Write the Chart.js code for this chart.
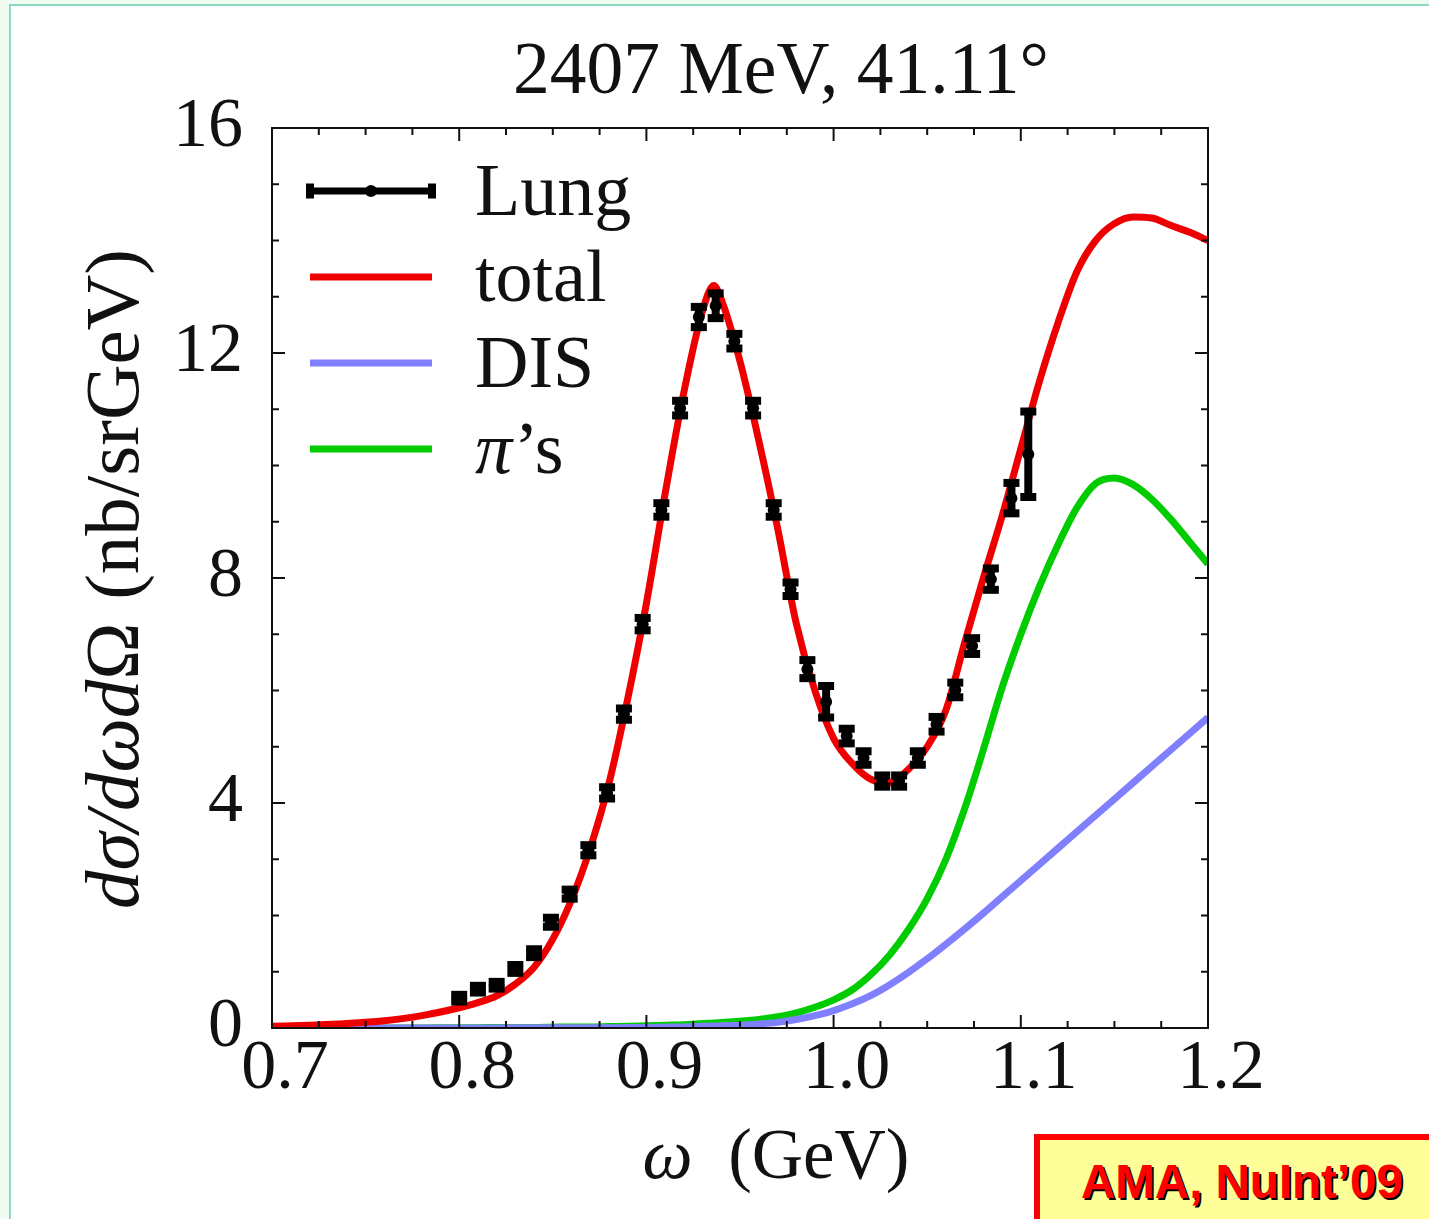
<!DOCTYPE html>
<html lang="en">
<head>
  <meta charset="UTF-8" />
  <title>2407 MeV, 41.11°</title>
  <script src="https://cdn.jsdelivr.net/npm/chart.js"></script>
  <style>
    html, body { margin: 0; padding: 0; }
    body { width: 1429px; height: 1219px; background: #effcef; position: relative; overflow: hidden; }
    #panel { position: absolute; left: 9px; top: 4px; width: 1440px; height: 1230px; background: #fff;
             border-left: 2px solid #8fd6c6; border-top: 2px solid #8fd6c6; }
    #chart { position: absolute; left: 0; top: 0; }
    #tag { position: absolute; left: 1034px; top: 1134px; width: 420px; height: 120px; box-sizing: border-box;
           background: #ffff99; border: 6px solid #ff0000; padding: 18px 0 0 41px;
           font-family: "Liberation Sans", Arial, sans-serif; font-weight: bold; font-size: 47.5px; line-height: 1;
           color: #ff0000; text-shadow: 2px 2px 0 #000; white-space: nowrap; }
  </style>
</head>
<body>
  <div id="panel"></div>
  <canvas id="chart" width="1429" height="1219"></canvas>
  <div id="tag">AMA, NuInt’09</div>

  <script>
    // ---- data ----
    const plotTitle = '2407 MeV, 41.11°';
    const xTickValues = [0.7, 0.8, 0.9, 1.0, 1.1, 1.2];
    const xTickLabels = ['0.7', '0.8', '0.9', '1.0', '1.1', '1.2'];
    const yTickValues = [0, 4, 8, 12, 16];
    const yTickLabels = ['0', '4', '8', '12', '16'];

    // Lung data points
    const lungW = [0.800, 0.810, 0.820, 0.830, 0.840, 0.849, 0.859, 0.869, 0.879, 0.888, 0.898, 0.908,
      0.918, 0.928, 0.937, 0.947, 0.957, 0.968, 0.977, 0.986, 0.996, 1.007, 1.016, 1.026,
      1.035, 1.045, 1.055, 1.065, 1.074, 1.084, 1.095, 1.104];
    const lungV = [0.53, 0.69, 0.76, 1.05, 1.33, 1.88, 2.38, 3.16, 4.18, 5.58, 7.18, 9.21,
      11.02, 12.64, 12.84, 12.21, 11.02, 9.21, 7.80, 6.38, 5.80, 5.19, 4.80, 4.39,
      4.39, 4.80, 5.40, 6.01, 6.79, 7.98, 9.42, 10.20];
    const lungErr = [0.06, 0.06, 0.06, 0.07, 0.07, 0.08, 0.08, 0.09, 0.1, 0.1, 0.11, 0.12,
      0.13, 0.18, 0.22, 0.13, 0.13, 0.12, 0.12, 0.16, 0.28, 0.13, 0.12, 0.1,
      0.1, 0.12, 0.13, 0.13, 0.14, 0.19, 0.27, 0.76];

    // model curves
    const curveW = [0.70, 0.72, 0.74, 0.76, 0.78, 0.80, 0.81, 0.82, 0.83, 0.84, 0.85, 0.86, 0.87, 0.88, 0.89,
      0.90, 0.91, 0.92, 0.93, 0.936, 0.94, 0.95, 0.96, 0.97, 0.98, 0.99, 1.00, 1.01, 1.02, 1.03, 1.04,
      1.05, 1.06, 1.07, 1.08, 1.09, 1.10, 1.11, 1.12, 1.13, 1.14, 1.15, 1.16, 1.17, 1.18, 1.19, 1.20];
    const totalV = [0.03, 0.05, 0.08, 0.13, 0.22, 0.36, 0.45, 0.57, 0.78, 1.08, 1.58, 2.28, 3.2, 4.35, 5.85,
      7.55, 9.5, 11.3, 12.75, 13.2, 12.95, 11.85, 10.45, 8.9, 7.2, 6.0, 5.15, 4.7, 4.42, 4.36, 4.6,
      5.0, 5.65, 6.85, 8.0, 9.1, 10.3, 11.5, 12.55, 13.45, 14.0, 14.3, 14.42, 14.4, 14.27, 14.15, 14.0];
    const disV = [0, 0, 0, 0, 0, 0, 0, 0.002, 0.003, 0.004, 0.005, 0.005, 0.005, 0.005, 0.008,
      0.01, 0.015, 0.02, 0.03, 0.035, 0.04, 0.05, 0.07, 0.1, 0.15, 0.22, 0.31, 0.43, 0.58, 0.77, 0.99,
      1.23, 1.49, 1.76, 2.04, 2.33, 2.62, 2.91, 3.2, 3.49, 3.78, 4.07, 4.36, 4.65, 4.94, 5.23, 5.52];
    const pionV = [0, 0, 0, 0, 0, 0.005, 0.005, 0.01, 0.01, 0.01, 0.015, 0.02, 0.02, 0.025, 0.03,
      0.04, 0.05, 0.06, 0.08, 0.09, 0.1, 0.12, 0.15, 0.2, 0.27, 0.37, 0.5, 0.68, 0.95, 1.3, 1.75,
      2.3, 3.0, 3.9, 4.95, 6.05, 7.0, 7.85, 8.6, 9.25, 9.68, 9.78, 9.66, 9.4, 9.05, 8.65, 8.25];

    const SERIF = '"Liberation Serif", "DejaVu Serif", serif';

    function pts(xs, ys) {
      return xs.map((x, i) => ({ x: x, y: ys[i] }));
    }

    function runsWidth(ctx, runs, size) {
      let total = 0;
      runs.forEach(r => {
        ctx.font = (r.italic ? 'italic ' : '') + size + 'px ' + SERIF;
        total += ctx.measureText(r.text).width + (r.gap || 0) * size / 68;
      });
      return total;
    }

    // draw text made of runs (different styles), centred on cx; fitted to a target width
    function drawRuns(ctx, runs, cx, baseY, size, target) {
      if (target) size = size * target / runsWidth(ctx, runs, size);
      let x = cx - runsWidth(ctx, runs, size) / 2;
      ctx.textAlign = 'left';
      ctx.textBaseline = 'alphabetic';
      runs.forEach(r => {
        ctx.font = (r.italic ? 'italic ' : '') + size + 'px ' + SERIF;
        const g = (r.gap || 0) * size / 68;
        ctx.fillText(r.text, x + g, baseY);
        x += ctx.measureText(r.text).width + g;
      });
    }

    // inward ticks on all four sides + frame + titles
    const framePlugin = {
      id: 'frame',
      afterDraw(chart) {
        const ctx = chart.ctx;
        const a = chart.chartArea;
        const xs = chart.scales.x, ys = chart.scales.y;
        ctx.save();
        ctx.strokeStyle = '#111';
        ctx.lineWidth = 2;
        ctx.beginPath();
        for (let i = 0; i <= 20; i++) {
          const px = xs.getPixelForValue(0.7 + i * 0.025);
          const len = i % 4 === 0 ? 13 : 7;
          ctx.moveTo(px, a.bottom); ctx.lineTo(px, a.bottom - len);
          ctx.moveTo(px, a.top); ctx.lineTo(px, a.top + len);
        }
        for (let i = 0; i <= 16; i++) {
          const py = ys.getPixelForValue(i);
          const len = i % 4 === 0 ? 13 : 7;
          ctx.moveTo(a.left, py); ctx.lineTo(a.left + len, py);
          ctx.moveTo(a.right, py); ctx.lineTo(a.right - len, py);
        }
        ctx.stroke();
        ctx.strokeRect(a.left, a.top, a.right - a.left, a.bottom - a.top);

        // titles
        ctx.fillStyle = '#111';
        const cx = (a.left + a.right) / 2;
        drawRuns(ctx, [{ text: plotTitle }], cx + 41, 93, 72, 536);
        drawRuns(ctx, [{ text: 'ω', italic: true }, { text: '(GeV)', gap: 34 }], cx + 36, 1178, 71);
        ctx.translate(138, 579);
        ctx.rotate(-Math.PI / 2);
        drawRuns(ctx, [{ text: 'dσ/dωd', italic: true }, { text: 'Ω' }, { text: '(nb/srGeV)', gap: 20 }], 0, 0, 68, 660);
        ctx.restore();
      }
    };

    // error bars for datasets carrying an "errors" array
    const errorBarPlugin = {
      id: 'errorBars',
      afterDatasetsDraw(chart) {
        const ctx = chart.ctx;
        const ys = chart.scales.y;
        chart.data.datasets.forEach((ds, di) => {
          if (!ds.errors) return;
          const meta = chart.getDatasetMeta(di);
          ctx.save();
          ctx.fillStyle = '#000';
          ctx.strokeStyle = '#000';
          ctx.lineWidth = 8;
          meta.data.forEach((el, i) => {
            const v = ds.data[i].y, e = ds.errors[i];
            const top = ys.getPixelForValue(v + e), bot = ys.getPixelForValue(v - e);
            ctx.beginPath();
            ctx.moveTo(el.x, top); ctx.lineTo(el.x, bot);
            ctx.stroke();
            ctx.fillRect(el.x - 8, top - 4, 16, 8);
            ctx.fillRect(el.x - 8, bot - 4, 16, 8);
          });
          ctx.restore();
        });
      }
    };

    // legend drawn inside the plot area
    const legendPlugin = {
      id: 'insideLegend',
      afterDraw(chart) {
        const ctx = chart.ctx;
        const a = chart.chartArea;
        const x0 = a.left + 38, x1 = a.left + 160, tx = a.left + 203;
        ctx.save();
        chart.data.datasets.forEach((ds, i) => {
          const y = a.top + 63 + i * 86;
          ctx.strokeStyle = ds.borderColor;
          ctx.fillStyle = ds.borderColor;
          ctx.lineWidth = 7;
          ctx.beginPath();
          ctx.moveTo(x0, y); ctx.lineTo(x1, y);
          ctx.stroke();
          if (ds.errors) {
            ctx.fillRect(x0 - 4, y - 7.5, 8, 15);
            ctx.fillRect(x1 - 4, y - 7.5, 8, 15);
            ctx.beginPath();
            ctx.arc((x0 + x1) / 2, y, 6, 0, Math.PI * 2);
            ctx.fill();
          }
          ctx.fillStyle = '#111';
          ctx.textAlign = 'left';
          ctx.textBaseline = 'alphabetic';
          let x = tx;
          const label = ds.label;
          if (label.startsWith('π')) {
            ctx.font = 'italic 74px ' + SERIF;
            ctx.fillText('π', x, y + 24);
            x += ctx.measureText('π').width + 2;
            ctx.font = '74px ' + SERIF;
            ctx.fillText(label.slice(1), x, y + 24);
          } else {
            ctx.font = '74px ' + SERIF;
            ctx.fillText(label, x, y + 24);
          }
        });
        ctx.restore();
      }
    };

    const chart = new Chart(document.getElementById('chart'), {
      type: 'line',
      data: {
        datasets: [
          {
            label: 'Lung', data: pts(lungW, lungV), errors: lungErr, showLine: false,
            borderColor: '#000', pointBackgroundColor: '#000', pointBorderWidth: 0, pointRadius: 6, order: 0
          },
          {
            label: 'total', data: pts(curveW, totalV), borderColor: '#ee0000', borderWidth: 7,
            pointRadius: 0, cubicInterpolationMode: 'monotone', order: 1
          },
          {
            label: 'DIS', data: pts(curveW, disV), borderColor: '#8080ff', borderWidth: 7,
            pointRadius: 0, cubicInterpolationMode: 'monotone', order: 2
          },
          {
            label: 'π’s', data: pts(curveW, pionV), borderColor: '#00cc00', borderWidth: 7,
            pointRadius: 0, cubicInterpolationMode: 'monotone', order: 3
          }
        ]
      },
      options: {
        responsive: false,
        animation: false,
        devicePixelRatio: 1,
        layout: { padding: { left: 0, top: 128, right: 221, bottom: 0 } },
        plugins: {
          legend: { display: false },
          tooltip: { enabled: false },
          title: { display: false }
        },
        scales: {
          x: {
            type: 'linear', min: 0.7, max: 1.2,
            afterBuildTicks: s => { s.ticks = xTickValues.map(v => ({ value: v })); },
            afterFit: s => { s.height = 191; },
            grid: { display: false, drawTicks: false },
            border: { display: false },
            ticks: {
              autoSkip: false, maxRotation: 0, padding: 0, labelOffset: 13, color: '#111',
              font: { family: SERIF, size: 70 },
              callback: (v, i) => xTickLabels[i]
            }
          },
          y: {
            type: 'linear', min: 0, max: 16,
            afterBuildTicks: s => { s.ticks = yTickValues.map(v => ({ value: v })); },
            afterFit: s => { s.width = 272; },
            grid: { display: false, drawTicks: false },
            border: { display: false },
            ticks: {
              autoSkip: false, padding: 29, color: '#111',
              font: { family: SERIF, size: 70 },
              callback: (v, i) => yTickLabels[i]
            }
          }
        }
      },
      plugins: [errorBarPlugin, framePlugin, legendPlugin]
    });
  </script>
</body>
</html>
